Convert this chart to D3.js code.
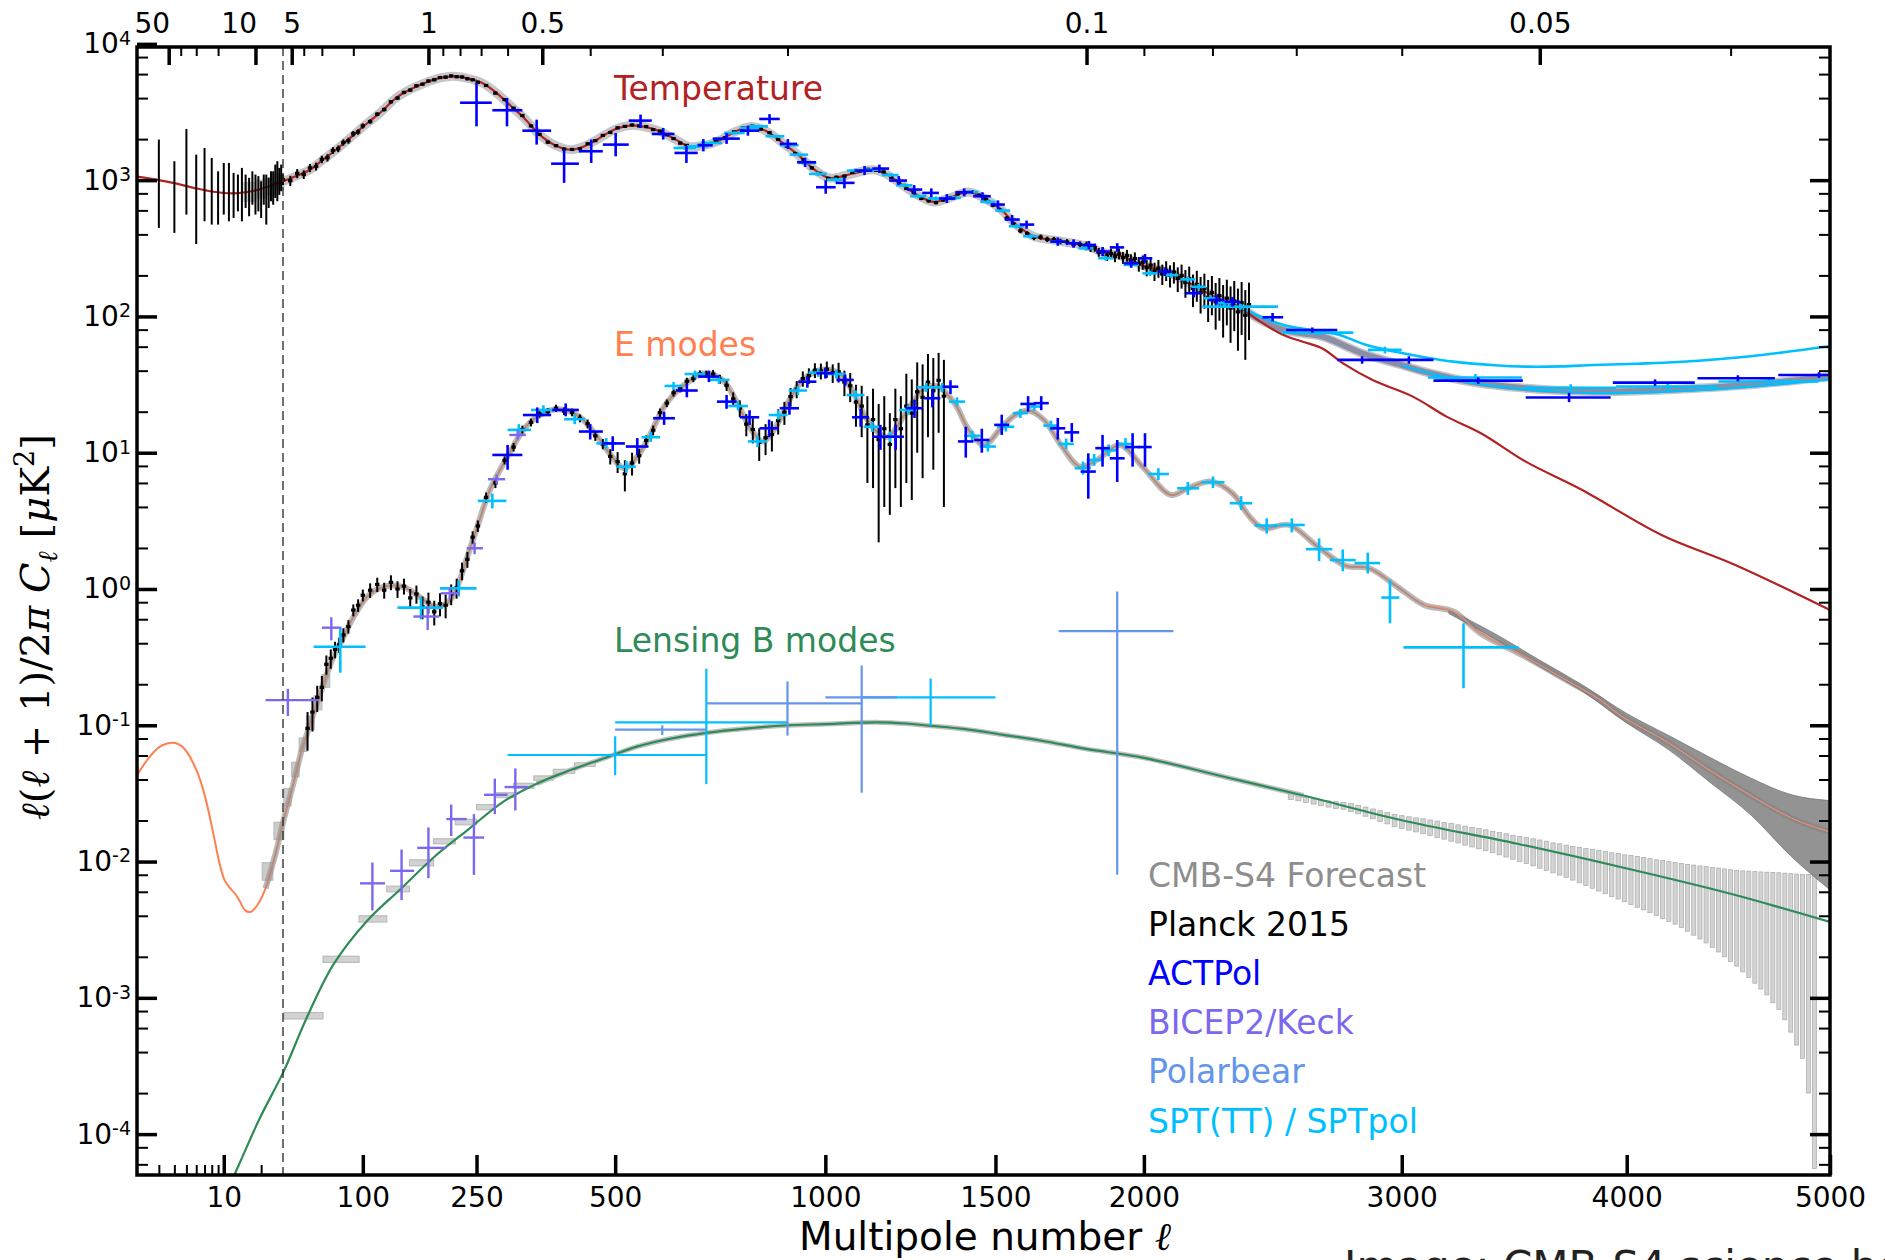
<!DOCTYPE html>
<html>
<head>
<meta charset="utf-8">
<script src="https://cdn.jsdelivr.net/npm/d3@7"></script>
<style>
  body { margin: 0; background: #fff; }
  svg text { font-family: "DejaVu Sans", sans-serif; }
</style>
</head>
<body>
<svg id="chart" width="1885" height="1260"></svg>
<script>
// ---------------- Theory spectra: [multipole, D_ell in uK^2] ----------------
const ttTheory = [[2,1060],[3,1000],[4,950],[5,905],[6,870],[8,825],[10,805],[12,800],[15,815],[18,840],[21,875],[25,925],[30,980],[35,1030],[40,1080],[50,1193],[60,1390],[75,1722],[90,2140],[105,2626],[120,3150],[138,4005],[155,4600],[175,5164],[195,5600],[215,5780],[235,5600],[259,5164],[282,4350],[306,3483],[330,2800],[355,2158],[385,1790],[414,1673],[440,1780],[463,1981],[500,2360],[534,2525],[565,2450],[595,2282],[628,2000],[660,1771],[695,1800],[727,1928],[766,2250],[804,2470],[830,2400],[854,2218],[890,1850],[927,1538],[970,1200],[1012,1037],[1070,1110],[1131,1193],[1170,1110],[1215,926],[1260,780],[1309,692],[1360,745],[1415,819],[1460,745],[1512,625],[1567,470],[1623,387],[1700,360],[1760,342],[1810,325],[1855,295],[1920,278],[2000,235],[2097,207],[2200,160],[2280,133],[2349,118]];
const ttLensedTail = [[2349,118],[2430,92],[2521,73],[2600,65],[2677,58],[2760,45],[2881,34],[3047,25.8],[3190,18.4],[3339,13.9],[3537,8.6],[3793,5.33],[4165,2.49],[4523,1.5],[5000,0.7]];
const ttTotalTail = [[2349,118],[2430,95],[2521,79.6],[2600,75],[2677,71],[2836,53.7],[3000,44],[3094,39.4],[3300,33],[3463,30.5],[3650,28.8],[3843,28.1],[4050,28.4],[4245,29.2],[4600,31.5],[5000,36.1]];
const sptFgHigh = [[2349,118],[2430,100],[2521,86.5],[2620,80],[2744,73],[2850,62],[2975,55],[3100,50],[3219,46.6],[3400,43.8],[3537,42.8],[3700,43],[3843,44],[4050,45],[4245,46.3],[4600,51],[5000,60.7]];
const sptFgLow = [[3000,43.5],[3300,32.5],[3500,29.5],[3843,27.4],[4245,28.3],[4600,30.5],[5000,34.5]];
const eeTheory = [[2,0.043],[2.5,0.058],[3,0.0689],[3.5,0.0735],[4.06,0.0741],[4.6,0.07],[5.12,0.0624],[5.6,0.054],[6.18,0.0443],[6.8,0.034],[7.47,0.0243],[8.3,0.0155],[9.3,0.00948],[10.2,0.00724],[11.2,0.0064],[12.3,0.00583],[13.5,0.0051],[14.9,0.00438],[16.4,0.00427],[18.6,0.00478],[21.7,0.00635],[26.2,0.01156],[30.6,0.0205],[36.9,0.0363],[43.2,0.0643],[50,0.1015],[58.4,0.1695],[70.5,0.318],[78.7,0.423],[90,0.62],[105,0.88],[120,1.02],[135,1.06],[150,1.02],[170,0.86],[188,0.743],[205,0.78],[217,0.93],[236,1.73],[253,3.03],[271,5.33],[300,9.36],[331,15.5],[362,19.5],[391,20.8],[429,18.4],[464,13.1],[491,9.63],[518,7.7],[546,9.36],[575,13.9],[604,21.8],[644,30.5],[696,38.3],[738,34.2],[770,24.4],[804,15.5],[837,12.1],[870,15.5],[905,24.4],[940,34.2],[987,40.5],[1036,38.3],[1073,28.9],[1110,18.4],[1149,13.9],[1175,13.1],[1226,19.5],[1280,29.7],[1321,30.5],[1373,23],[1416,14.7],[1465,11.4],[1513,14.7],[1556,18.4],[1605,20.4],[1657,17.4],[1717,11.1],[1777,7.9],[1836,8.85],[1916,11.4],[1995,7.9],[2097,4.9],[2159,5.48],[2243,6.14],[2325,5.04],[2390,3.4],[2443,2.79],[2543,2.95],[2656,2.05],[2768,1.48],[2865,1.42],[2981,1.04],[3094,0.764],[3219,0.683],[3339,0.47],[3512,0.333],[3719,0.215],[3870,0.156],[3978,0.116],[4190,0.0757],[4384,0.0482],[4583,0.0316],[4808,0.0207],[5000,0.0165]];
const bbTheory = [[10,3.4e-5],[12.7,5.47e-5],[19.2,1.27e-4],[30.6,2.91e-4],[47.1,7.06e-4],[70.5,1.76e-3],[105,3.7e-3],[144.6,6.35e-3],[189,0.01094],[238,0.0173],[292,0.0273],[350,0.0373],[412,0.0469],[478,0.0573],[547,0.07],[620,0.08],[700,0.088],[800,0.095],[900,0.1],[1000,0.102],[1075,0.104],[1150,0.105],[1225,0.103],[1300,0.099],[1400,0.094],[1519,0.0855],[1650,0.077],[1798,0.0671],[2000,0.0577],[2305,0.0414],[2600,0.0305],[3000,0.0201],[3500,0.0135],[4000,0.0089],[4500,0.0058],[5000,0.0036]];

// ---------------- CMB-S4 forecast ----------------
// boxes: [ell_lo, ell_hi, D_lo, D_hi]
const s4TTBoxes = [[14.6,18.2,700,960],[18.2,22,740,1000],[22,26,790,1040],[26,30.5,850,1100]];
const s4EEBoxes = [[20.4,24.8,0.0073,0.0098],[25.4,30.5,0.0145,0.0194],[30.6,35.5,0.0257,0.0343],[36,41.5,0.0419,0.0535],[41.5,47.5,0.0643,0.0807],[47.5,53.5,0.093,0.117],[53.5,60,0.13,0.165],[60,67,0.19,0.235]];
const s4BBBoxes = [[30.6,61,7.0e-4,7.8e-4],[61,96,1.82e-3,2.02e-3],[96,127,3.6e-3,4.0e-3],[127,155,6.0e-3,6.6e-3],[155,187,9.3e-3,1.03e-2],[187,218,1.35e-2,1.47e-2],[218,250,1.86e-2,2.04e-2],[250,280,2.4e-2,2.62e-2],[280,310,2.95e-2,3.2e-2],[310,345,3.45e-2,3.75e-2],[345,380,3.95e-2,4.25e-2],[380,420,4.45e-2,4.75e-2],[420,460,5.0e-2,5.3e-2]];
// EE band at high ell: [ell, D_lo, D_hi]
const s4EEBand = [[3200,0.66,0.705],[3400,0.43,0.47],[3600,0.27,0.30],[3800,0.175,0.195],[4000,0.104,0.122],[4200,0.066,0.084],[4400,0.038,0.058],[4600,0.022,0.041],[4800,0.011,0.031],[5000,0.0062,0.028]];
// lensing B-mode bandpowers at high ell
const s4BBEll = [2550,2580,2610,2640,2670,2700,2730,2760,2790,2820,2850,2880,2910,2940,2970,3000,3030,3060,3090,3120,3150,3180,3210,3240,3270,3300,3330,3360,3390,3420,3450,3480,3510,3540,3570,3600,3630,3660,3690,3720,3750,3780,3810,3840,3870,3900,3930,3960,3990,4020,4050,4080,4110,4140,4170,4200,4230,4260,4290,4320,4350,4380,4410,4440,4470,4500,4530,4560,4590,4620,4650,4680,4710,4740,4770,4800,4830,4860,4890,4920];
const s4BBHi = [0.0313,0.0302,0.0295,0.0288,0.0282,0.0279,0.0275,0.0272,0.0266,0.0258,0.0251,0.0243,0.0236,0.0229,0.0222,0.0217,0.0213,0.0209,0.0206,0.0202,0.0198,0.0194,0.0191,0.0186,0.0182,0.0178,0.0175,0.0171,0.0167,0.0163,0.016,0.0156,0.0153,0.015,0.0147,0.0144,0.0141,0.0137,0.0135,0.0132,0.0129,0.0127,0.0125,0.0123,0.0121,0.0119,0.0116,0.0115,0.0112,0.0111,0.0109,0.0107,0.0105,0.0103,0.0102,0.00998,0.00982,0.00966,0.00953,0.00942,0.00929,0.00918,0.00906,0.00895,0.00883,0.00871,0.00863,0.00855,0.00851,0.00845,0.00839,0.00836,0.00832,0.00828,0.00822,0.00815,0.00809,0.00805,0.00802,0.008];
const s4BBLo = [0.0285,0.0279,0.0271,0.0264,0.0257,0.0251,0.0245,0.0242,0.0233,0.0224,0.0215,0.0206,0.0197,0.0189,0.018,0.0175,0.017,0.0165,0.016,0.0155,0.015,0.0146,0.0141,0.0137,0.0132,0.0128,0.0124,0.012,0.0116,0.0112,0.0108,0.0104,0.01,0.00966,0.00929,0.00893,0.00859,0.00826,0.00796,0.00766,0.00731,0.00698,0.00667,0.00637,0.00608,0.00581,0.00555,0.00531,0.00507,0.00484,0.00462,0.00442,0.00421,0.00401,0.00382,0.00364,0.00347,0.00328,0.00308,0.00288,0.0027,0.00253,0.00234,0.00217,0.002,0.00185,0.00171,0.00155,0.00141,0.00128,0.00116,0.00105,0.00092,0.00082,0.00069,0.00056,0.00045,0.00036,0.0002,0.000056];

// ---------------- Planck 2015 ----------------
// low-ell TT: [ell, D_lo, D_hi]
const planckTTLow = [[3,446,1984],[4,410,1376],[5,559,2375],[6,340,1538],[7,499,1722],[8,472,1455],[9,472,1161],[10,559,1337],[11,499,1337],[12,528,1130],[13,590,1099],[14,499,1230],[15,625,1099],[16,543,1040],[17,660,1161],[18,559,1099],[19,590,1070],[20,528,981],[21,660,1099],[22,472,1099],[23,625,1040],[24,700,1161],[25,660,1161],[26,740,1300],[27,700,1376],[28,780,1230],[29,830,1300]];
// binned TT: [ell, D, sigma]
const planckTT = [[30,1010,90],[35,990,85],[40,1120,85],[45,1100,80],[50,1230,85],[55,1260,85],[60,1420,90],[65,1460,90],[70,1650,95],[75,1700,95],[80,1890,100],[85,1950,100],[90,2190,105],[95,2260,105],[100,2500,110],
[108,2690,100],[116,3050,100],[124,3300,110],[132,3760,115],[140,4000,120],[148,4400,125],[156,4580,125],[164,4920,130],[172,5060,130],[180,5340,135],[188,5450,135],[196,5660,135],[204,5700,140],[212,5820,140],[220,5740,135],[228,5720,135],[236,5540,130],[244,5450,130],[252,5220,125],
[265,4950,110],[280,4350,100],[295,3900,90],[310,3370,80],[325,2980,70],[340,2500,60],[355,2170,55],[370,1900,50],[385,1790,45],[400,1690,42],[415,1680,40],[430,1700,40],[445,1850,42],[460,1950,45],[475,2130,48],[490,2240,50],[505,2420,52],[520,2480,55],[535,2540,55],[550,2500,55],[565,2470,52],[580,2350,50],[595,2290,48],[610,2150,46],[625,2020,44],[640,1870,42],[655,1800,40],[670,1760,40],[685,1800,40],[700,1830,40],
[722,1920,42],[744,2050,45],[766,2260,48],[788,2410,50],[810,2490,52],[832,2370,50],[854,2230,48],[876,1990,45],[898,1780,42],[920,1570,38],[942,1410,35],[964,1230,32],[986,1120,30],[1008,1030,28],[1030,1050,28],[1052,1070,28],[1074,1140,30],[1096,1170,30],[1118,1200,30],[1140,1180,30],[1162,1150,30],[1184,1050,28],[1206,970,27],[1228,870,25],[1250,810,24],[1272,735,22],[1294,705,21],[1316,685,21],[1338,715,21],[1360,745,22],[1382,795,23],[1404,810,23],[1426,820,24],[1448,775,23],[1470,725,22],[1492,655,21],[1514,605,20],[1536,525,19],[1558,475,18],[1580,425,17],[1602,405,17],[1624,380,17],[1646,382,17],[1668,368,17],[1690,367,17],[1712,355,17],[1734,352,17],[1756,338,17],[1778,337,18],
[1800,335,20],[1814,318,21],[1828,320,22],[1842,296,22],[1856,300,23],[1870,278,23],[1884,290,24],[1898,275,25],[1912,288,26],[1926,270,27],[1940,280,28],[1954,258,28],[1968,266,29],[1982,243,30],[1996,250,30],[2010,228,31],[2024,238,32],[2038,215,33],[2052,226,34],[2066,205,35],[2080,218,36],[2094,200,37],[2108,212,38],[2122,190,39],[2136,200,40],[2150,178,41],[2164,190,42],[2178,160,43],[2192,172,44],[2206,150,45],[2220,160,46],[2234,138,47],[2248,150,48],[2262,128,48],[2276,142,49],[2290,120,50],[2304,136,50],[2318,115,51],[2332,130,52],[2346,108,52],[2360,126,53],[2374,102,54],[2388,122,55]];
// binned EE: [ell, D, sigma]
const planckEE = [[48,0.095,0.03],[52,0.125,0.035],[56,0.16,0.035],[60,0.19,0.04],[64,0.28,0.045],[68,0.31,0.05],[72,0.36,0.05],[76,0.39,0.05],[80,0.46,0.055],[85,0.53,0.06],[90,0.7,0.07],[95,0.76,0.08],[100,0.9,0.09],
[108,0.98,0.12],[116,1.08,0.13],[124,0.98,0.13],[132,1.12,0.14],[140,1.0,0.14],[148,1.05,0.14],[156,0.86,0.14],[164,0.92,0.14],[172,0.74,0.14],[180,0.8,0.14],[188,0.68,0.14],[196,0.78,0.15],[204,0.76,0.15],[212,0.92,0.16],[220,1.02,0.17],[228,1.36,0.2],[236,1.65,0.22],[244,2.4,0.25],[252,2.9,0.28],
[265,4.7,0.4],[280,6.0,0.5],[295,8.8,0.6],[310,11.0,0.8],[325,14.8,1.0],[340,16.7,1.1],[355,19.3,1.2],[370,20.0,1.3],[385,21.2,1.3],[400,20.2,1.3],[415,19.8,1.3],[430,17.9,1.2],[445,16.3,1.2],[460,13.3,1.1],[475,11.6,1.0],[490,9.4,1.2],[505,8.6,1.5],[520,7.0,1.8],[535,8.4,1.6],[550,9.5,1.2],[565,12.3,1.1],[580,14.6,1.2],[595,19.7,1.4],[610,23.1,1.5],[625,27.5,1.7],[640,29.5,1.8],[655,33.5,2.0],[670,35.0,2.1],[685,38.0,2.2],[700,37.6,2.3],
[716,37.8,2.6],[732,34.6,2.7],[748,31.2,2.8],[764,24.8,2.9],[780,21.2,3.0],[796,16.2,3.0],[812,14.8,3.1],[828,11.9,3.2],[844,12.9,3.3],[860,13.6,3.4],[876,17.2,3.6],[892,19.8,3.8],[908,25.8,4.0],[924,29.3,4.2],[940,35.0,4.5],[956,36.8,4.8],[972,40.3,5.0],[988,39.8,5.3],[1004,41.0,5.6],[1020,38.5,6.0],[1036,39.2,6.5],[1052,33.0,7.0],[1068,31.0,7.5],[1084,23.5,8.0],[1100,22.0,9.0],[1116,16.0,10],[1132,17.5,12],[1148,12.5,10.3],[1164,15.0,11],[1180,11.5,8],[1196,17.5,12],[1212,15.0,11],[1228,22.0,16],[1244,19.5,15],[1260,28.0,18],[1276,25.5,19],[1292,33.0,20],[1308,28.5,21],[1324,34.0,20],[1340,26.0,22]];

// ---------------- Other experiments: [ell, D, ell_lo, ell_hi, D_lo, D_hi] ----------------
const actpolTT = [[250,3700,225,274,2483,5164],[299,3258,275,325,2483,4009],[350,2307,325,376,1823,2780],[400,1321,376,428,955,1675],[452,1629,428,475,1337,1984],[501,1823,475,528,1496,2219],[553,2734,528,577,2416,3027],[602,2182,577,627,1984,2416],[654,1584,627,680,1337,1773],[693,1803,680,715,1626,2000],[748,2017,715,780,1845,2219],[800,2307,780,828,2120,2510],[854,2812,828,880,2590,3050],[901,1845,880,925,1690,2000],[946,1353,925,975,1250,1460],[1001,887,975,1028,795,1000],[1052,955,1028,1080,870,1045],[1108,1175,1080,1130,1090,1270],[1150,1216,1130,1178,1130,1300],[1206,993,1178,1230,920,1070],[1251,853,1230,1275,790,920],[1302,806,1275,1325,750,870],[1349,733,1325,1375,680,790],[1402,815,1375,1430,760,870],[1459,762,1430,1485,710,815],[1508,662,1485,1530,615,710],[1553,514,1530,1578,475,555],[1600,472,1578,1625,440,505],[1703,354,1678,1728,330,380],[1756,344,1730,1780,320,368],[1808,334,1783,1833,310,358],[1855,299,1833,1880,278,322],[1906,321,1880,1930,298,345],[1955,245,1930,1980,228,263],[2004,267,1980,2030,248,287],[2075,213,2050,2100,198,229],[2181,148,2150,2210,138,160],[2265,132,2235,2295,122,143],[2325,128,2295,2355,118,139],[2479,98.6,2440,2520,92,106],[2635,79.6,2532,2735,76,83],[2836,48,2735,2935,45,51],[3030,48,2935,3134,45,51],[3327,33.8,3134,3524,32,35.7],[3733,25.4,3537,3925,23.5,27.5],[4134,32.7,3935,4325,31,34.5],[4536,35.2,4338,4720,33.4,37],[4944,37.2,4737,5000,35.5,39]];
const actpolEE = [[300,9.63,275,325,7.5,11.4],[351,18.9,326,376,16.5,21.5],[403,20.6,378,428,18.5,23],[450,14.3,428,475,12.5,16.2],[495,11.7,473,520,10.3,13.2],[546,11.1,522,570,9.6,12.8],[604,17.9,580,628,16,20],[655,28.6,630,680,25.5,32],[706,36.2,681,731,33,40],[748,23.7,725,772,21,26.5],[804,18.2,780,828,16,20.5],[853,15.1,829,877,13,17.5],[905,21.2,880,930,19,23.5],[952,33.2,928,976,30,36.5],[1000,38.3,976,1024,35,42],[1054,34.2,1030,1078,31,37.5],[1097,18.2,1073,1121,15.5,21],[1153,13.1,1129,1177,10.5,16],[1197,13.1,1173,1221,10.5,16],[1252,21.2,1228,1276,18,24.5],[1305,25.1,1281,1329,21.5,29],[1360,30.5,1336,1384,27,34],[1407,12.1,1383,1431,9.2,15.5],[1457,12.4,1433,1481,10,15],[1520,16,1496,1544,13.5,19],[1605,22.8,1580,1630,20,26],[1648,23.1,1623,1673,20.5,26],[1703,15.1,1678,1728,12.5,18],[1750,14.1,1725,1775,12,16.5],[1806,7.27,1780,1832,4.6,9.9],[1855,10.8,1830,1880,7.9,13.5],[1906,9.1,1880,1932,6.1,12.4],[1960,11,1934,1986,7.9,13.9],[2004,11,1980,2028,7.9,13.9]];
const sptTT = [[650,1722,625,675,1670,1775],[680,1773,655,705,1720,1830],[712,1875,687,737,1820,1930],[767,2219,742,792,2160,2280],[804,2416,780,828,2350,2480],[826,2483,802,850,2420,2550],[868,2099,844,892,2040,2160],[905,1803,881,929,1750,1860],[930,1538,906,954,1490,1590],[952,1337,928,976,1295,1380],[980,1111,956,1004,1075,1150],[1028,1009,1004,1052,975,1045],[1083,1175,1059,1107,1135,1215],[1131,1193,1107,1155,1155,1230],[1181,1090,1157,1205,1055,1125],[1222,917,1198,1246,885,950],[1263,762,1239,1287,735,790],[1315,733,1291,1339,708,760],[1368,741,1344,1392,715,768],[1422,820,1398,1446,792,848],[1476,692,1452,1500,668,717],[1523,598,1499,1547,577,620],[1567,459,1543,1591,443,476],[1613,387,1589,1637,373,401],[1703,354,1678,1728,341,367],[1798,316,1772,1824,304,328],[1866,267,1840,1892,256,278],[1955,239,1928,1982,229,249],[2022,207,1995,2049,198,216],[2097,201,2070,2124,192,210],[2159,187,2132,2186,178,196],[2199,165,2172,2226,157,173],[2243,136,2216,2270,129,143],[2294,125,2267,2321,118,132],[2356,118,2212,2500,112,124],[2657,76,2515,2800,72,80],[2930,56.8,2860,3000,53.5,60],[3315,35.6,3110,3520,33.5,37.8],[3740,30,3530,3950,28.2,31.8],[4195,30.6,3950,4440,28.8,32.4],[4690,33.3,4440,4940,31.3,35.3]];
const sptEE = [[77,0.377,53,103,0.243,0.52],[170,0.73,140,200,0.6,0.87],[223,1.01,196,250,0.88,1.15],[275,4.43,252,298,3.9,5],[319,14.7,300,340,13.3,16.2],[362,20.6,340,385,19,22.3],[420,17.6,400,440,16.2,19],[482,11.7,462,502,10.7,12.8],[523,7.9,503,543,7.1,8.7],[575,13,555,595,12,14.2],[625,30.9,605,645,29,33],[674,37.8,650,698,35.5,40],[730,34.2,705,755,32,36.5],[776,22,752,800,20.5,23.8],[824,12.1,800,848,11,13.3],[876,18.9,852,900,17.5,20.5],[927,28.6,903,951,26.5,30.8],[981,38.7,955,1007,36,41.5],[1030,37.8,1005,1055,35,40.5],[1083,26.5,1058,1108,24.5,28.7],[1130,15.5,1105,1155,14.2,16.9],[1181,13.1,1155,1207,12,14.3],[1233,20.6,1207,1259,19,22.3],[1287,30.2,1260,1314,28,32.5],[1335,30.2,1310,1360,28,32.5],[1380,23.7,1355,1405,22,25.5],[1427,13.3,1402,1452,12.2,14.5],[1476,11.1,1450,1502,10.2,12.1],[1533,15.5,1505,1560,14.3,16.8],[1580,19.5,1555,1605,18,21],[1625,21.8,1600,1650,20.3,23.3],[1680,15.8,1655,1705,14.5,17.2],[1731,11.6,1705,1757,10.6,12.7],[1788,7.7,1760,1815,6.9,8.6],[1826,8.85,1800,1852,8,9.8],[1876,10.4,1850,1902,9.4,11.5],[1935,11.6,1905,1965,10.5,12.8],[2052,6.98,2015,2090,6.3,7.7],[2159,5.48,2120,2200,4.9,6.1],[2252,6.07,2210,2295,5.5,6.7],[2358,4.26,2315,2400,3.8,4.8],[2456,2.92,2410,2500,2.55,3.3],[2554,2.95,2505,2605,2.6,3.3],[2662,1.96,2610,2715,1.6,2.35],[2757,1.63,2705,2810,1.35,1.95],[2859,1.55,2805,2910,1.3,1.85],[2951,0.865,2915,2990,0.56,1.17],[3263,0.373,3007,3504,0.187,0.561]];
const sptBB = [[500,0.0605,300,700,0.043,0.083],[700,0.105,500,900,0.037,0.26],[1300,0.16,1100,1500,0.099,0.22]];
const bicepEE = [[33.3,0.153,21.7,57,0.117,0.185],[68.5,0.52,60,78,0.42,0.62],[179,0.628,160,195,0.5,0.743],[210,0.93,197,225,0.84,1.02],[247,1.99,235,260,1.8,2.2],[282,6.39,268,296,5.9,6.9],[317,13.5,303,331,12.5,14.6]];
const bicepBB = [[110.5,0.00692,97,125,0.00438,0.00984],[145,0.00855,131,161,0.00521,0.01225],[180,0.0126,165,205,0.00755,0.0178],[212,0.0205,205,235,0.0154,0.0262],[246,0.015,230,262,0.00798,0.0223],[279,0.0309,262,300,0.0223,0.0406],[313,0.0352,295,335,0.0237,0.0482]];
const polarbearBB = [[600,0.093,500,700,0.085,0.1],[900,0.145,700,1100,0.084,0.21],[1100,0.16,1000,1200,0.032,0.275],[1906,0.49,1706,2106,0.008,0.96]];

// ---------------- Axis ticks and labels ----------------
const bottomMajor = [10, 100, 250, 500, 1000, 1500, 2000, 3000, 4000, 5000];
const bottomMinor = [3, 4, 5, 6, 7, 8, 9, 20];
const topMajorDeg = [50, 10, 5, 1, 0.5, 0.1, 0.05];
const topMinorDeg = [40, 30, 20, 4, 3, 2, 0.9, 0.8, 0.7, 0.6, 0.4, 0.3, 0.2, 0.09, 0.08, 0.07, 0.06, 0.04];
const yMajorExp = [-4, -3, -2, -1, 0, 1, 2, 3, 4];
const yMinorMult = [2, 4, 6, 8];

const legendItems = [["CMB-S4 Forecast", "#8e8e8e"], ["Planck 2015", "#000000"], ["ACTPol", "#0000ff"], ["BICEP2/Keck", "#7b68ee"], ["Polarbear", "#6495ed"], ["SPT(TT) / SPTpol", "#00bfff"]];
const spectrumLabels = [["Temperature", "#b22222", 100], ["E modes", "#ff7f50", 356], ["Lensing B modes", "#2e8b57", 652]];

// ---------------- Layout and scales ----------------
const plot = { left: 137, right: 1830, top: 47, bottom: 1175, split: 283 };
const xLow = d3.scaleLog().domain([2, 30]).range([plot.left, plot.split]);
const xHigh = d3.scalePow().exponent(0.6).domain([30, 5000]).range([plot.split, plot.right]);
const x = l => (l < 30 ? xLow(l) : xHigh(l));
const y = d3.scaleLog().domain([Math.pow(10, -4.3), Math.pow(10, 3.977)]).range([plot.bottom, plot.top]);
const yc = v => y(Math.max(v, 1e-7));

const svg = d3.select("#chart");
svg.append("rect").attr("width", 1885).attr("height", 1260).attr("fill", "#fff");
svg.append("defs").append("clipPath").attr("id", "plotClip").append("rect")
  .attr("x", plot.left).attr("y", plot.top)
  .attr("width", plot.right - plot.left).attr("height", plot.bottom - plot.top);
const g = svg.append("g").attr("clip-path", "url(#plotClip)");

const line = d3.line().x(d => x(d[0])).y(d => y(d[1])).curve(d3.curveCatmullRom.alpha(0.5));

// ---------------- CMB-S4 forecast layer (under the theory lines) ----------------
const ttFull = ttTheory.concat(ttTotalTail.slice(1));
g.append("path").attr("d", line(ttFull.filter(d => d[0] >= 14))).attr("fill", "none")
  .attr("stroke", "#c6c6ca").attr("stroke-width", 9).attr("stroke-linejoin", "round");
g.append("path").attr("d", line(ttTotalTail)).attr("fill", "none")
  .attr("stroke", "#8c8ea6").attr("stroke-width", 6);
g.append("path").attr("d", line(bbTheory.filter(d => d[0] >= 300 && d[0] <= 2600))).attr("fill", "none")
  .attr("stroke", "#c0c0c0").attr("stroke-width", 5);

function boxes(data, fill, stroke) {
  g.append("g").selectAll("rect").data(data).join("rect")
    .attr("x", d => x(d[0])).attr("width", d => x(d[1]) - x(d[0]))
    .attr("y", d => y(d[3])).attr("height", d => y(d[2]) - y(d[3]))
    .attr("fill", fill).attr("stroke", stroke).attr("stroke-width", 1.2);
}
boxes(s4TTBoxes, "#cfcfcf", "#bdbdbd");
boxes(s4EEBoxes, "#cccccc", "#bbbbbb");
boxes(s4BBBoxes, "#d2d2d2", "#bcbcbc");

g.append("g").selectAll("rect").data(s4BBEll).join("rect")
  .attr("x", d => x(d - 10)).attr("width", d => x(d + 10) - x(d - 10))
  .attr("y", (d, i) => y(s4BBHi[i])).attr("height", (d, i) => yc(s4BBLo[i]) - y(s4BBHi[i]))
  .attr("fill", "#d3d3d3").attr("stroke", "#aaaaaa").attr("stroke-width", 0.7);

// ---------------- Theory curves ----------------
g.append("path").attr("d", line(ttTheory.concat(ttLensedTail.slice(1)))).attr("fill", "none")
  .attr("stroke", "#b22222").attr("stroke-width", 2.2);
g.append("path").attr("d", line(sptFgHigh)).attr("fill", "none").attr("stroke", "#00bfff").attr("stroke-width", 2.6);
g.append("path").attr("d", line(sptFgLow)).attr("fill", "none").attr("stroke", "#00bfff").attr("stroke-width", 2.2);
g.append("path").attr("d", line(eeTheory)).attr("fill", "none").attr("stroke", "#ff7f50").attr("stroke-width", 2);
// EE forecast band drawn translucent over the E-mode line
g.append("path").attr("d", line(eeTheory.filter(d => d[0] >= 20))).attr("fill", "none")
  .attr("stroke", "#8f8f8f").attr("stroke-opacity", 0.62).attr("stroke-width", 6).attr("stroke-linejoin", "round");
g.append("path")
  .attr("d", d3.area().x(d => x(d[0])).y0(d => y(d[1])).y1(d => y(d[2])).curve(d3.curveMonotoneX)(s4EEBand))
  .attr("fill", "#808080").attr("fill-opacity", 0.85).attr("stroke", "#7a7a7a").attr("stroke-width", 0.8);
g.append("path").attr("d", line(eeTheory.filter(d => d[0] >= 3000))).attr("fill", "none")
  .attr("stroke", "#e8937a").attr("stroke-width", 1.2);
g.append("path").attr("d", line(bbTheory)).attr("fill", "none").attr("stroke", "#2e8b57").attr("stroke-width", 2.2);

// ---------------- Planck ----------------
const pl = g.append("g").attr("stroke", "#000");
pl.selectAll("line.low").data(planckTTLow).join("line").attr("class", "low")
  .attr("x1", d => x(d[0])).attr("x2", d => x(d[0]))
  .attr("y1", d => y(d[1])).attr("y2", d => y(d[2])).attr("stroke-width", 2);
[planckTT, planckEE].forEach(set => {
  pl.append("g").selectAll("line").data(set).join("line")
    .attr("x1", d => x(d[0])).attr("x2", d => x(d[0]))
    .attr("y1", d => yc(d[1] - d[2])).attr("y2", d => y(d[1] + d[2])).attr("stroke-width", 2);
  pl.append("g").selectAll("rect").data(set).join("rect")
    .attr("x", d => x(d[0]) - 2.2).attr("y", d => y(d[1]) - 1.6)
    .attr("width", 4.4).attr("height", 3.2).attr("fill", "#000").attr("stroke", "none");
});

// ---------------- Crosses ----------------
function crosses(data, color, width) {
  const cg = g.append("g").attr("stroke", color).attr("stroke-width", width);
  cg.selectAll("line.h").data(data).join("line").attr("class", "h")
    .attr("x1", d => x(d[2])).attr("x2", d => x(d[3]))
    .attr("y1", d => y(d[1])).attr("y2", d => y(d[1]));
  cg.selectAll("line.v").data(data).join("line").attr("class", "v")
    .attr("x1", d => x(d[0])).attr("x2", d => x(d[0]))
    .attr("y1", d => yc(d[4])).attr("y2", d => y(d[5]));
}
crosses(sptTT, "#00bfff", 2.6);
crosses(sptEE, "#00bfff", 2.6);
crosses(sptBB, "#00bfff", 2.2);
crosses(actpolTT, "#0000ff", 2.6);
crosses(actpolEE, "#0000ff", 2.6);
crosses(bicepEE, "#7b68ee", 2.4);
crosses(bicepBB, "#7b68ee", 2.4);
crosses(polarbearBB, "#6495ed", 2.2);

// ell = 30 divider
svg.append("line").attr("x1", x(30)).attr("x2", x(30)).attr("y1", plot.top).attr("y2", plot.bottom)
  .attr("stroke", "#333").attr("stroke-width", 1.4).attr("stroke-dasharray", "9,5");

// ---------------- Axes ----------------
const axes = svg.append("g");
function styleAxis(sel, w) {
  sel.select(".domain").remove();
  sel.selectAll(".tick line").attr("stroke", "#000").attr("stroke-width", w);
  sel.selectAll(".tick text").attr("fill", "#000").style("font-size", "28px")
    .style("font-family", "'DejaVu Sans', sans-serif");
}
function splitScale(vals) {
  return [[xLow, vals.filter(v => v < 30)], [xHigh, vals.filter(v => v >= 30)]];
}
// bottom: multipole
splitScale(bottomMajor).forEach(([sc, vals]) => {
  axes.append("g").attr("transform", `translate(0,${plot.bottom})`)
    .call(d3.axisBottom(sc).tickValues(vals).tickSize(-20).tickPadding(12).tickFormat(d3.format("d")))
    .call(s => styleAxis(s, 3.5));
});
splitScale(bottomMinor).forEach(([sc, vals]) => {
  axes.append("g").attr("transform", `translate(0,${plot.bottom})`)
    .call(d3.axisBottom(sc).tickValues(vals).tickSize(-10).tickFormat(""))
    .call(s => styleAxis(s, 2));
});
// top: angular scale in degrees
splitScale(topMajorDeg.map(t => 180 / t)).forEach(([sc, vals]) => {
  axes.append("g").attr("transform", `translate(0,${plot.top})`)
    .call(d3.axisTop(sc).tickValues(vals).tickSize(-18).tickPadding(14).tickFormat(l => d3.format("~g")(180 / l)))
    .call(s => styleAxis(s, 3.5))
    .call(s => s.selectAll(".tick text").filter(l => 180 / l >= 10).attr("text-anchor", "end").attr("x", 1));
});
splitScale(topMinorDeg.map(t => 180 / t)).forEach(([sc, vals]) => {
  axes.append("g").attr("transform", `translate(0,${plot.top})`)
    .call(d3.axisTop(sc).tickValues(vals).tickSize(-9).tickFormat(""))
    .call(s => styleAxis(s, 2));
});
// left / right: power
const yMajor = yMajorExp.map(e => Math.pow(10, e));
const yMinor = [];
d3.range(-5, 4).forEach(e => yMinorMult.forEach(m => {
  const v = m * Math.pow(10, e);
  if (v > y.domain()[0] && v < y.domain()[1]) yMinor.push(v);
}));
const leftAx = axes.append("g").attr("transform", `translate(${plot.left},0)`)
  .call(d3.axisLeft(y).tickValues(yMajor).tickSize(-20).tickPadding(6).tickFormat(""))
  .call(s => styleAxis(s, 3.5));
leftAx.selectAll(".tick text").each(function (d, i) {
  const t = d3.select(this);
  t.append("tspan").text("10");
  t.append("tspan").attr("dy", "-0.45em").style("font-size", "19px").text(String(yMajorExp[i]));
});
axes.append("g").attr("transform", `translate(${plot.left},0)`)
  .call(d3.axisLeft(y).tickValues(yMinor).tickSize(-11).tickFormat(""))
  .call(s => styleAxis(s, 2));
axes.append("g").attr("transform", `translate(${plot.right},0)`)
  .call(d3.axisRight(y).tickValues(yMajor.filter(v => y(v) >= plot.top)).tickSize(-20).tickFormat(""))
  .call(s => styleAxis(s, 3.5));
axes.append("g").attr("transform", `translate(${plot.right},0)`)
  .call(d3.axisRight(y).tickValues(yMinor).tickSize(-11).tickFormat(""))
  .call(s => styleAxis(s, 2));

// frame
svg.append("rect").attr("x", plot.left).attr("y", plot.top)
  .attr("width", plot.right - plot.left).attr("height", plot.bottom - plot.top)
  .attr("fill", "none").attr("stroke", "#000").attr("stroke-width", 3.5);

// ---------------- Text ----------------
spectrumLabels.forEach(([txt, col, by]) => {
  svg.append("text").attr("x", 614).attr("y", by).attr("fill", col).style("font-size", "33px").text(txt);
});
legendItems.forEach(([txt, col], i) => {
  svg.append("text").attr("x", 1148).attr("y", 887 + i * 49.1).attr("fill", col).style("font-size", "33px").text(txt);
});

const xt = svg.append("text").attr("x", 985).attr("y", 1250).attr("text-anchor", "middle").style("font-size", "39px");
xt.append("tspan").text("Multipole number ");
xt.append("tspan").style("font-family", "'DejaVu Serif', serif").style("font-style", "italic").text("ℓ");

const yt = svg.append("text").attr("transform", "translate(49,627) rotate(-90)").attr("text-anchor", "middle")
  .style("font-family", "'DejaVu Serif', serif").style("font-size", "40px");
yt.append("tspan").style("font-style", "italic").text("ℓ");
yt.append("tspan").text("(");
yt.append("tspan").style("font-style", "italic").text("ℓ");
yt.append("tspan").text(" + 1)/2");
yt.append("tspan").style("font-style", "italic").text("π C");
yt.append("tspan").attr("dy", 8).style("font-size", "27px").style("font-style", "italic").text("ℓ");
yt.append("tspan").attr("dy", -8).text(" [");
yt.append("tspan").style("font-style", "italic").text("μ");
yt.append("tspan").text("K");
yt.append("tspan").attr("dy", -15).style("font-size", "27px").text("2");
yt.append("tspan").attr("dy", 15).text("]");

svg.append("text").attr("x", 1344).attr("y", 1281).attr("fill", "#222").style("font-size", "42px")
  .text("Image: CMB-S4 science book");
</script>
</body>
</html>
